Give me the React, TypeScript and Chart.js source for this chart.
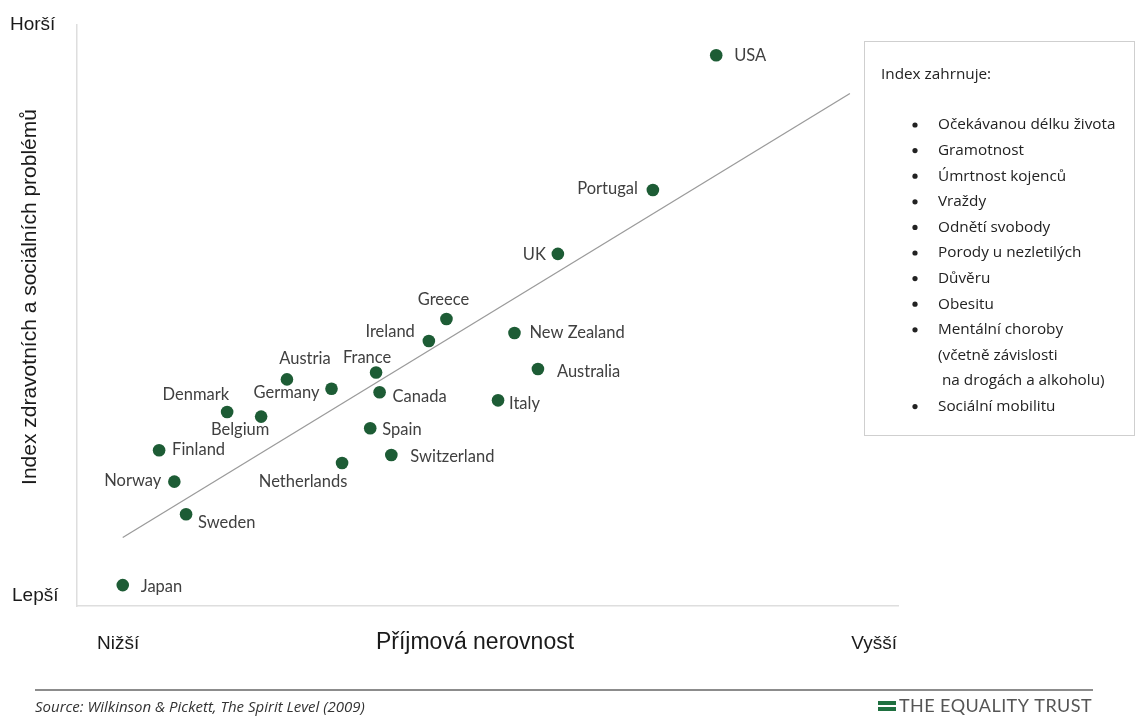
import React, { useEffect, useRef } from 'react';
import { Chart, registerables } from 'chart.js';

Chart.register(...registerables);

// ---- data ----
const countries = ['USA', 'Portugal', 'UK', 'Greece', 'Ireland', 'New Zealand', 'France', 'Australia', 'Canada', 'Italy', 'Spain', 'Switzerland', 'Austria', 'Germany', 'Denmark', 'Belgium', 'Finland', 'Netherlands', 'Norway', 'Sweden', 'Japan'];
const inequality = [8.45, 7.91, 7.10, 6.15, 6.00, 6.73, 5.55, 6.93, 5.58, 6.59, 5.50, 5.68, 4.79, 5.17, 4.28, 4.57, 3.70, 5.26, 3.83, 3.93, 3.39];
const healthIndex = [2.74, 1.58, 1.03, 0.47, 0.28, 0.35, 0.01, 0.04, -0.16, -0.23, -0.47, -0.70, -0.05, -0.13, -0.33, -0.37, -0.66, -0.77, -0.93, -1.21, -1.82];
const fitLineX = [3.39, 9.59];
const fitLineY = [-1.41, 2.41];
const xRange = [3, 10];
const yRange = [-2, 3];

const yAxisTitle = 'Index zdravotních a sociálních problémů';
const xAxisTitle = 'Příjmová nerovnost';
const yTopLabel = 'Horší';
const yBottomLabel = 'Lepší';
const xLeftLabel = 'Nižší';
const xRightLabel = 'Vyšší';
const sourceText = 'Source: Wilkinson & Pickett, The Spirit Level (2009)';
const brandText = 'THE EQUALITY TRUST';
const boxTitle = 'Index zahrnuje:';
const boxItems: [string, boolean][] = [
  ['Očekávanou délku života', true],
  ['Gramotnost', true],
  ['Úmrtnost kojenců', true],
  ['Vraždy', true],
  ['Odnětí svobody', true],
  ['Porody u nezletilých', true],
  ['Důvěru', true],
  ['Obesitu', true],
  ['Mentální choroby', true],
  ['(včetně závislosti', false],
  [' na drogách a alkoholu)', false],
  ['Sociální mobilitu', true],
];

// label placement (pixel offsets from point, alignment)
const labelPlacement: [number, number, CanvasTextAlign][] = [
  [18, 0, 'left'],     // USA
  [-15, -1, 'right'],  // Portugal
  [-12, 1, 'right'],   // UK
  [-3, -19, 'center'], // Greece
  [-14, -9, 'right'],  // Ireland
  [15, 0, 'left'],     // New Zealand
  [-9, -15, 'center'], // France
  [19, 3, 'left'],     // Australia
  [13, 4, 'left'],     // Canada
  [11, 3, 'left'],     // Italy
  [12, 1, 'left'],     // Spain
  [19, 2, 'left'],     // Switzerland
  [18, -21, 'center'], // Austria
  [-12, 4, 'right'],   // Germany
  [2, -17, 'right'],   // Denmark
  [-21, 13, 'center'], // Belgium
  [13, -1, 'left'],    // Finland
  [-39, 19, 'center'], // Netherlands
  [-13, -1, 'right'],  // Norway
  [12, 8, 'left'],     // Sweden
  [18, 2, 'left'],     // Japan
];

const decorPlugin = {
  id: 'decor',
  afterDraw(chart: any) {
    const ctx: CanvasRenderingContext2D = chart.ctx;
    const area = chart.chartArea;
    ctx.save();

    // country labels
    const meta = chart.getDatasetMeta(0);
    ctx.font = '16.5px Lato';
    ctx.fillStyle = '#404040';
    ctx.textBaseline = 'middle';
    meta.data.forEach((pt: any, i: number) => {
      const [dx, dy, align] = labelPlacement[i];
      ctx.textAlign = align;
      ctx.fillText(countries[i], pt.x + dx, pt.y + dy);
    });

    // axis end labels
    ctx.fillStyle = '#1a1a1a';
    ctx.textBaseline = 'alphabetic';
    ctx.font = '19px "Liberation Sans", Arial, sans-serif';
    ctx.textAlign = 'left';
    ctx.fillText(yTopLabel, 10, 30);
    ctx.fillText(yBottomLabel, 12, 601);
    ctx.fillText(xLeftLabel, area.left + 20, 649);
    ctx.textAlign = 'right';
    ctx.fillText(xRightLabel, area.right - 1, 649);

    // x axis title
    ctx.font = '23px "Liberation Sans", Arial, sans-serif';
    ctx.textAlign = 'center';
    ctx.fillText(xAxisTitle, 475, 649);

    // y axis title
    ctx.save();
    ctx.translate(36, 297);
    ctx.rotate(-Math.PI / 2);
    ctx.font = '21px "Liberation Sans", Arial, sans-serif';
    ctx.textAlign = 'center';
    ctx.fillText(yAxisTitle, 0, 0);
    ctx.restore();

    // info box
    ctx.fillStyle = '#ffffff';
    ctx.fillRect(864.5, 41.5, 270, 394);
    ctx.strokeStyle = '#cfcfcf';
    ctx.lineWidth = 1;
    ctx.strokeRect(864.5, 41.5, 270, 394);
    ctx.fillStyle = '#222222';
    ctx.font = '15.3px "Open Sans"';
    ctx.textAlign = 'left';
    ctx.textBaseline = 'middle';
    ctx.fillText(boxTitle, 881, 75);
    boxItems.forEach(([t, bullet], i) => {
      const y = 125 + 25.6 * i;
      if (bullet) {
        ctx.beginPath();
        ctx.arc(915, y, 2.6, 0, Math.PI * 2);
        ctx.fill();
      }
      ctx.fillText(t, 938, y);
    });

    // footer
    ctx.strokeStyle = '#8c8c8c';
    ctx.lineWidth = 2;
    ctx.beginPath();
    ctx.moveTo(35, 690);
    ctx.lineTo(1093, 690);
    ctx.stroke();

    ctx.fillStyle = '#333333';
    ctx.font = 'italic 15px "Open Sans"';
    ctx.textBaseline = 'alphabetic';
    ctx.textAlign = 'left';
    ctx.fillText(sourceText, 35, 712);

    // brand
    ctx.fillStyle = '#1f7040';
    ctx.fillRect(878, 701, 18, 4);
    ctx.fillRect(878, 707, 18, 4);
    ctx.fillStyle = '#555555';
    ctx.font = '18px Lato';
    const w = ctx.measureText(brandText).width;
    const target = 193;
    const sp = (target - w) / brandText.length;
    try { (ctx as any).letterSpacing = sp.toFixed(2) + 'px'; } catch (e) {}
    ctx.fillText(brandText, 899, 712);
    try { (ctx as any).letterSpacing = '0px'; } catch (e) {}

    ctx.restore();
  },
};

export default function App() {
  const ref = useRef<HTMLCanvasElement>(null);
  useEffect(() => {
    document.body.style.margin = '0';
    const chart = new Chart(ref.current as HTMLCanvasElement, {
      type: 'scatter',
      data: {
        datasets: [
          {
            label: 'Země',
            data: inequality.map((x, i) => ({ x, y: healthIndex[i] })),
            backgroundColor: '#1d5c35',
            borderColor: '#1d5c35',
            borderWidth: 0,
            pointRadius: 6.3,
            pointHoverRadius: 6.3,
          },
          {
            type: 'line' as any,
            label: 'Trend',
            data: fitLineX.map((x, i) => ({ x, y: fitLineY[i] })),
            borderColor: '#9b9b9b',
            borderWidth: 1.3,
            pointRadius: 0,
            fill: false,
          } as any,
        ],
      },
      options: {
        animation: false,
        responsive: false,
        events: [],
        layout: { padding: { left: 77, top: 25, right: 237, bottom: 112 } },
        plugins: { legend: { display: false }, tooltip: { enabled: false } },
        scales: {
          x: {
            type: 'linear',
            min: xRange[0],
            max: xRange[1],
            grid: { display: false, drawTicks: false, tickLength: 0 },
            ticks: { display: false },
            border: { display: true, color: '#dedede', width: 1.5 },
          },
          y: {
            type: 'linear',
            min: yRange[0],
            max: yRange[1],
            grid: { display: false, drawTicks: false, tickLength: 0 },
            ticks: { display: false },
            border: { display: true, color: '#dedede', width: 1.5 },
          },
        },
      },
      plugins: [decorPlugin],
    });
    return () => chart.destroy();
  }, []);
  return (
    <div style={{ width: 1135, height: 718, background: '#fff' }}>
      <canvas ref={ref} width={1135} height={718} style={{ display: 'block' }} />
    </div>
  );
}
